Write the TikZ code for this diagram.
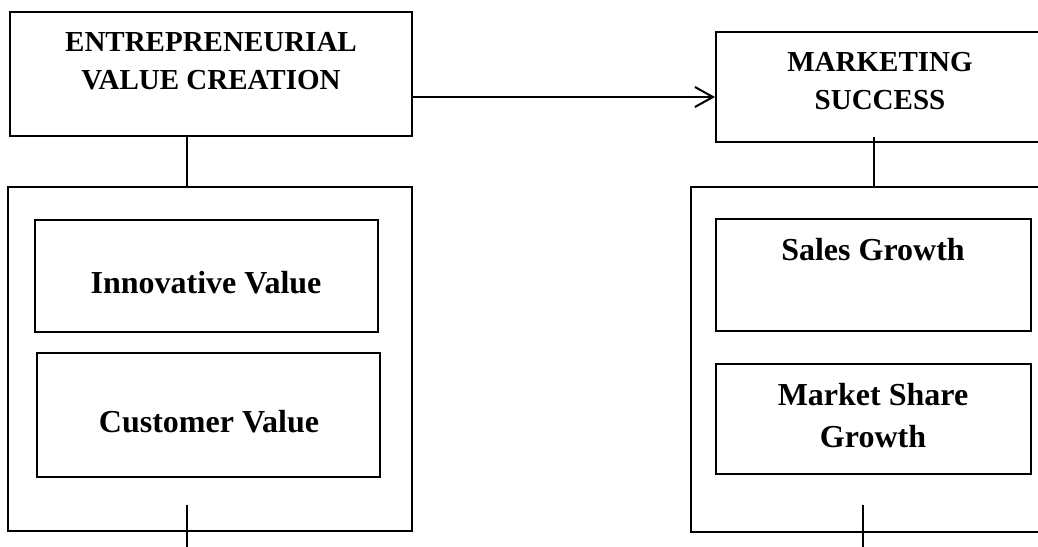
\documentclass[tikz,border=0pt]{standalone}
\usepackage{fontspec}
\setmainfont{Liberation Serif}
\usetikzlibrary{arrows.meta}

\begin{document}
\begin{tikzpicture}[x=1pt, y=-1pt,
    box/.style={draw, line width=2pt, inner sep=0pt},
    title/.style={font=\fontsize{29}{38}\selectfont\bfseries, align=center},
    item/.style={font=\fontsize{32}{42}\selectfont\bfseries, align=center},
    link/.style={line width=1.3pt}]
  \useasboundingbox (0,0) rectangle (1038,546);
  \clip (0,0) rectangle (1038,546);

  \node[box, minimum width=402pt, minimum height=124pt] (evc) at (211,74) {};
  \node[title] (evctext) at (211,61) {ENTREPRENEURIAL\\VALUE CREATION};
  \node[box, minimum width=334pt, minimum height=110pt] (ms) at (883,87) {};
  \node[title] (mstext) at (880,81) {MARKETING\\SUCCESS};

  \node[box, minimum width=404pt, minimum height=344pt] (leftgrp) at (210,359) {};
  \node[box, minimum width=343pt, minimum height=112pt] (inno) at (206.5,276) {};
  \node[item] (innotext) at (206,283) {Innovative Value};
  \node[box, minimum width=343pt, minimum height=124pt] (cust) at (208.5,415) {};
  \node[item] (custtext) at (209,422) {Customer Value};

  \node[box, minimum width=359pt, minimum height=345pt] (rightgrp) at (870.5,359.5) {};
  \node[box, minimum width=315pt, minimum height=112pt] (sales) at (873.5,275) {};
  \node[item] (salestext) at (873,250) {Sales Growth};
  \node[box, minimum width=315pt, minimum height=110pt] (share) at (873.5,419) {};
  \node[item] (sharetext) at (873,416) {Market Share\\Growth};

  \draw[line width=2pt, -{Straight Barb[length=18pt, width=20pt]}]
    ([yshift=-23pt]evc.east) -- ([yshift=-23pt]evc.east -| ms.west);
  \draw[link] ([xshift=-24pt]evc.south) -- ([xshift=-24pt]evc.south |- leftgrp.north);
  \draw[link] ([xshift=-9pt, yshift=6pt]ms.south) -- ([xshift=-9pt]ms.south |- rightgrp.north);

  \coordinate (lefttop) at (187,505);
  \coordinate (leftend) at (187,550);
  \coordinate (righttop) at (863,505);
  \coordinate (rightend) at (863,550);
  \draw[link] (lefttop) -- (leftend);
  \draw[link] (righttop) -- (rightend);
\end{tikzpicture}
\end{document}
